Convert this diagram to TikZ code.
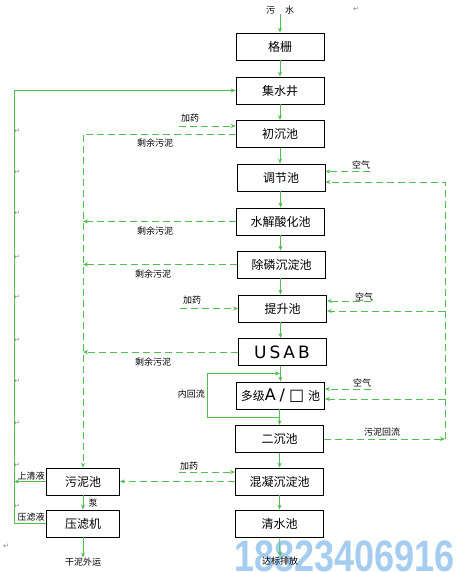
\documentclass[tikz,border=0pt]{standalone}
\usepackage{fontspec}
\setmainfont{Noto Sans CJK SC}
\newfontfamily\dejavu{DejaVu Sans}
\newfontfamily\libsans{Liberation Sans}
\usetikzlibrary{arrows.meta}
\definecolor{lg}{RGB}{80,190,80}
\definecolor{wmark}{RGB}{165,205,240}
\begin{document}
\begin{tikzpicture}[x=1pt,y=-1pt,
  box/.style={draw=black,line width=0.8pt,minimum width=88pt,minimum height=27pt,inner sep=0pt,font=\fontsize{12}{12}\selectfont},
  sbox/.style={box,minimum width=73pt},
  flow/.style={draw=lg,line width=0.8pt},
  tip/.style={-{Stealth[length=5pt,width=4pt]}},
  dline/.style={flow,dash pattern=on 7pt off 4pt},
  lbl/.style={font=\fontsize{9}{9}\selectfont,inner sep=0pt},
  pmark/.style={font=\dejavu\fontsize{7}{7}\selectfont,text=gray,inner sep=0pt}
]
\useasboundingbox (0,0) rectangle (460,572);
\fill[white] (0,0) rectangle (460,572);

% watermark
\node[font=\libsans\bfseries\fontsize{44}{44}\selectfont,text=wmark,anchor=west,inner sep=0pt] (wm) at (234,556) {\scalebox{0.82}[1]{18823406916}};

% main column
\node[lbl] (src) at (280,10) {污\hspace{10pt}水};
\node[box] (gs)   at (280,46.5)  {格栅};
\node[box] (jsj)  at (280,90.5)  {集水井};
\node[box] (ccc)  at (280,134)   {初沉池};
\node[box] (tjc)  at (281,177.5) {调节池};
\node[box] (sj)   at (280.5,221.5) {水解酸化池};
\node[box] (cl)   at (281.5,264.5) {除磷沉淀池};
\node[box] (ts)   at (282.5,308.5) {提升池};
\node[box] (usab) at (282,352) {\dejavu\fontsize{17}{17}\selectfont U\kern3pt S\kern3pt A\kern3pt B};
\node[box] (ao)   at (280.5,395.5) {多级{\dejavu\fontsize{16}{16}\selectfont A\kern4pt/\kern4pt□}\kern4pt 池};
\node[box] (ec)   at (279.5,439) {二沉池};
\node[box] (hn)   at (279.5,481.5) {混凝沉淀池};
\node[box] (qs)   at (279.5,523.5) {清水池};
\node[lbl] (out)  at (280,561) {达标排放};

% sludge column
\node[sbox] (wnc) at (83,481.5) {污泥池};
\node[sbox] (ylj) at (83,523.5) {压滤机};
\node[lbl] (gn) at (83,562) {干泥外运};

% main flow arrows
\draw[flow,tip] (src) -- (gs);
\draw[flow,tip] (gs) -- (jsj);
\draw[flow,tip] (jsj) -- (ccc);
\draw[flow,tip] (ccc) -- (tjc.north -| ccc);
\draw[flow,tip] (tjc.south -| sj) -- (sj);
\draw[flow,tip] (sj) -- (cl.north -| sj);
\draw[flow,tip] (cl.south -| sj) -- (ts.north -| sj);
\draw[flow,tip] (ts.south -| sj) -- (usab.north -| sj);
\draw[flow,tip] (usab.south -| sj) -- (ao.north -| sj);
\draw[flow,tip] (ao.south -| ec) -- (ec);
\draw[flow,tip] (ec) -- (hn);
\draw[flow,tip] (hn) -- (qs);
\draw[flow,tip] (qs) -- (out);

% internal recycle
\coordinate (nb) at (280,417);
\coordinate (nt) at (280,373.5);
\draw[flow,tip] (nb) -- (207,417) -- (207,373.5) -- (nt);
\node[lbl,anchor=east] (nhl) at (205,394) {内回流};

% sludge line between left boxes
\draw[flow,tip] (wnc) -- (ylj);
\node[lbl] (beng) at (93,503) {泵};
\draw[flow,tip] (ylj) -- (gn);

% left solid return line
\coordinate (ls) at (14,0);
\draw[flow,tip] (ylj.west) -- (ylj.west -| ls) -- (jsj.west -| ls) -- (jsj.west);
\draw[flow,tip] (wnc.west) -- (wnc.west -| ls);
\node[lbl] (sqy) at (31,476) {上清液};
\node[lbl] (ylyl) at (31,517) {压滤液};

% left dashed excess sludge
\coordinate (lt) at (83,0);
\draw[dline,tip] (ccc.west) -- (ccc.west -| lt) -- (wnc.north);
\draw[dline,tip] (sj.west) -- (sj.west -| lt);
\draw[dline,tip] (cl.west) -- (cl.west -| lt);
\draw[dline,tip] (usab.west) -- (usab.west -| lt);
\node[lbl] (s1) at (155,143) {剩余污泥};
\node[lbl] (s2) at (155,231) {剩余污泥};
\node[lbl] (s3) at (153,274) {剩余污泥};
\node[lbl] (s4) at (153,362) {剩余污泥};

% dosing
\coordinate (j1) at ([yshift=8pt]ccc.west);
\draw[dline,tip] ([xshift=-57pt]j1) -- (j1);
\node[lbl] (jy1) at (190,118) {加药};
\coordinate (j2) at (ts.west);
\draw[dline,tip] ([xshift=-58pt]j2) -- (j2);
\node[lbl] (jy2) at (192,300) {加药};
\coordinate (j3) at ([yshift=9.5pt]hn.west);
\draw[dline,tip] ([xshift=-56pt]j3) -- (j3);
\node[lbl] (jy3) at (189,466) {加药};
\draw[dline,tip] (hn.west) -- (wnc.east);

% air
\coordinate (a1) at ([yshift=6pt]tjc.east);
\draw[dline,tip] ([xshift=45pt]a1) -- (a1);
\node[lbl] (k1) at (361,165) {空气};
\coordinate (a2) at ([yshift=7.5pt]ts.east);
\draw[dline,tip] ([xshift=44pt]a2) -- (a2);
\node[lbl] (k2) at (364,297) {空气};
\coordinate (a3) at ([yshift=6.5pt]ao.east);
\draw[dline,tip] ([xshift=46pt]a3) -- (a3);
\node[lbl] (k3) at (362,383) {空气};

% sludge return (right)
\coordinate (rt) at (445,0);
\coordinate (r1) at ([yshift=-4.5pt]tjc.east);
\coordinate (r2) at ([yshift=-2.5pt]ts.east);
\coordinate (r3) at ([yshift=-3.5pt]ao.east);
\draw[dline,tip] (ec.east) -- (ec.east -| rt);
\draw[dline,tip] (ec.east -| rt) -- (r1 -| rt) -- (r1);
\draw[dline,tip] (r2 -| rt) -- (r2);
\draw[dline,tip] (r3 -| rt) -- (r3);
\node[lbl] (whl) at (382,432) {污泥回流};

% paragraph marks
\foreach \yy [count=\i] in {131,172,213,257,297,340,381,423,465,506}
  \node[pmark] (pm\i) at (17,\yy) {↵};
\node[pmark] (pmt) at (356,9) {↵};
\node[pmark] (pmb) at (6,546) {↵};
\end{tikzpicture}
\end{document}
